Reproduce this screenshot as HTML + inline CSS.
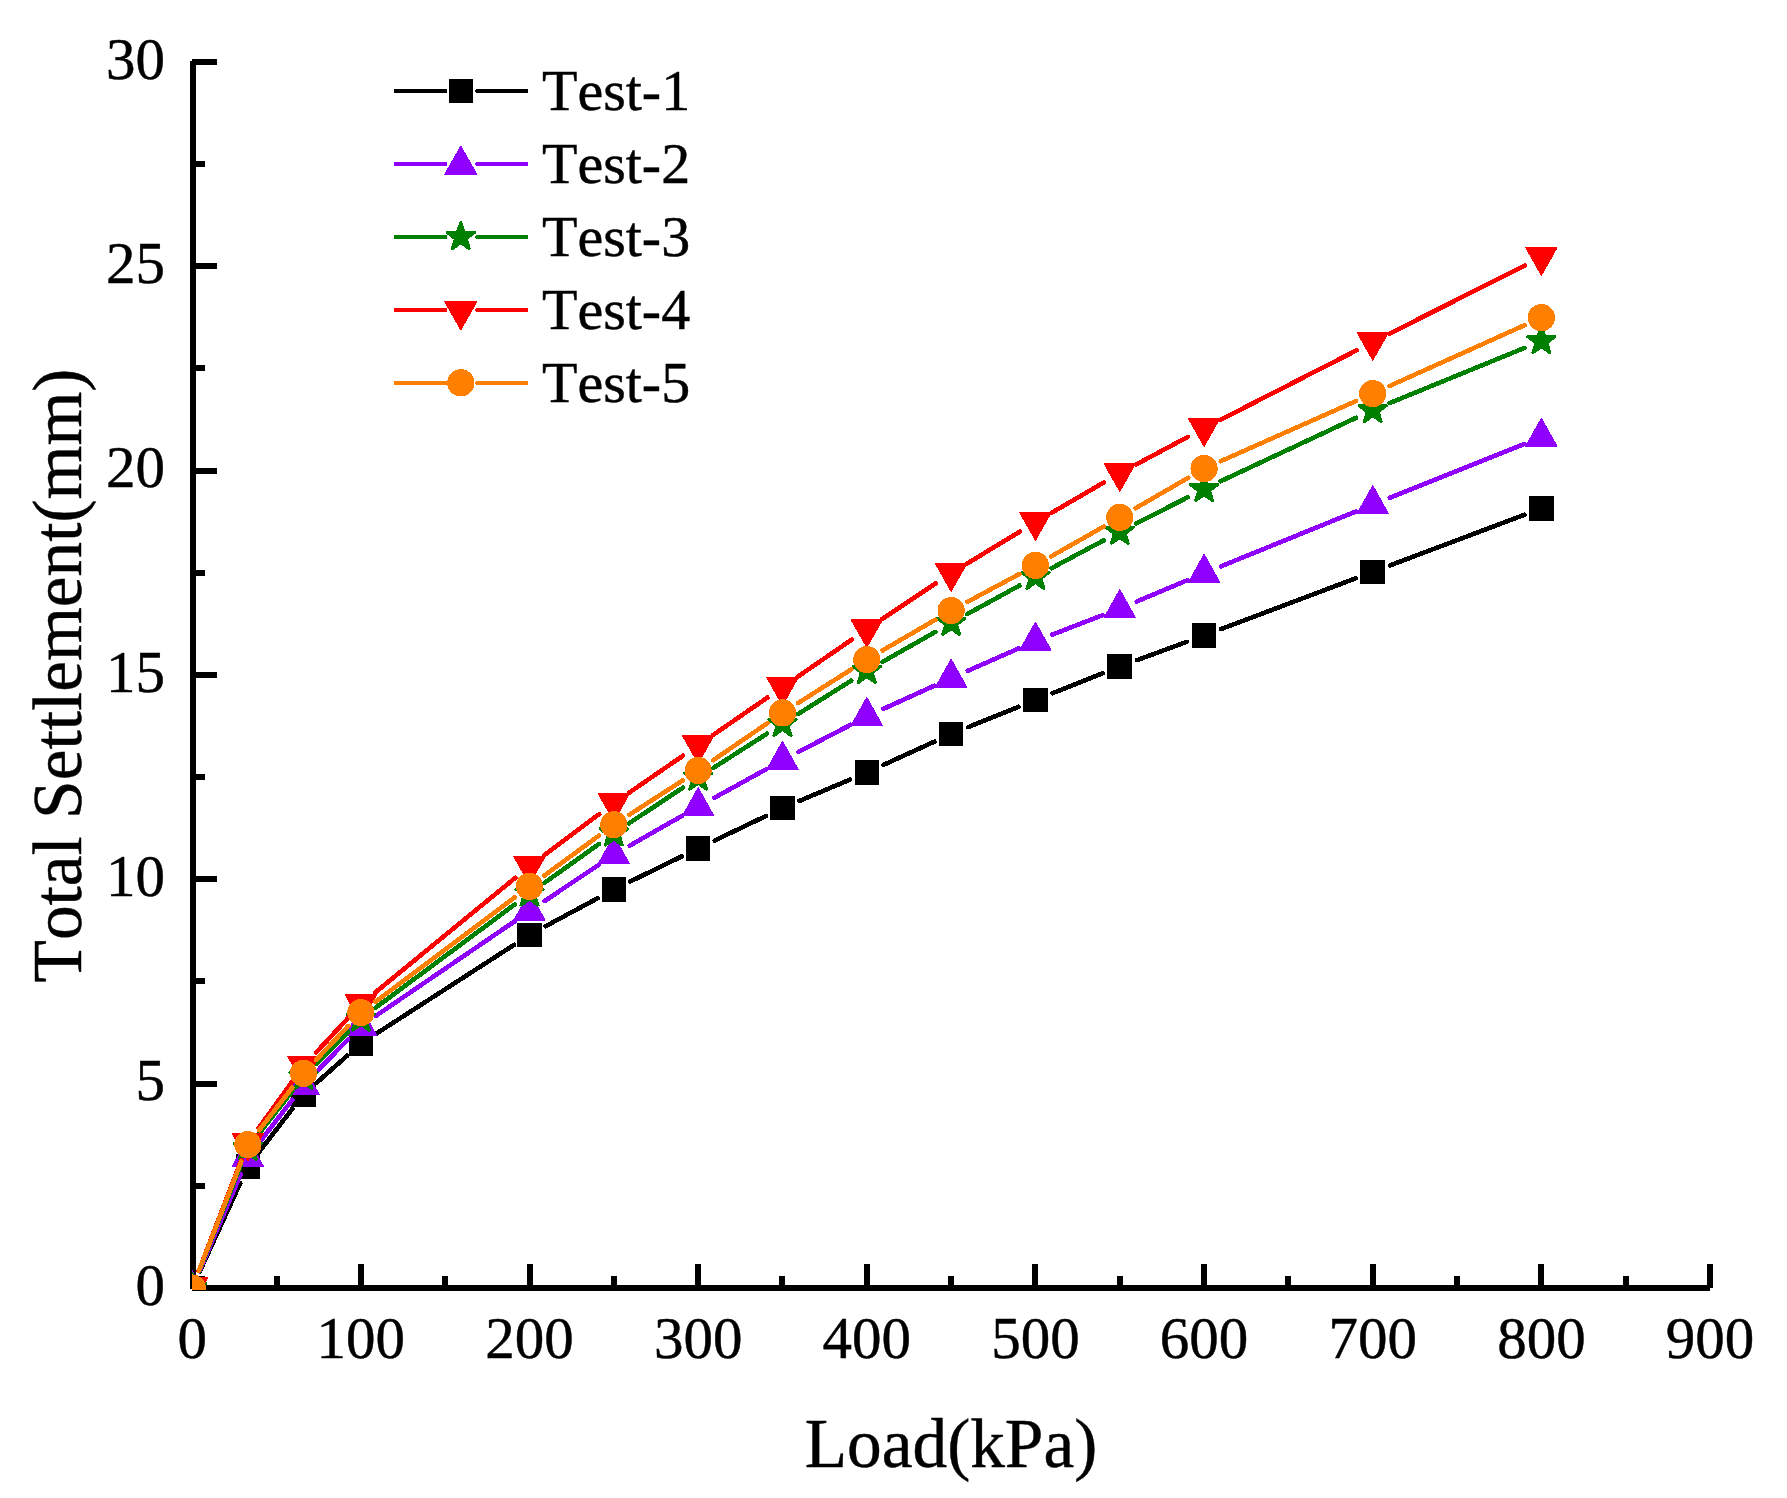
<!DOCTYPE html>
<html lang="en"><head><meta charset="utf-8"><title>Total Settlement vs Load</title>
<style>html,body{margin:0;padding:0;background:#fff;}body{width:1787px;height:1498px;overflow:hidden;}svg{display:block;}text{font-family:"Liberation Serif","Times New Roman",serif;fill:#000;stroke:#000;stroke-width:0.45px;font-kerning:none;}</style></head><body>
<svg width="1787" height="1498" viewBox="0 0 1787 1498">
<rect width="1787" height="1498" fill="#fff"/>
<defs><clipPath id="plot"><rect x="192" y="59" width="1521" height="1231"/></clipPath></defs>
<g fill="#000" shape-rendering="crispEdges">
<rect x="190" y="61" width="6" height="1228"/>
<rect x="192" y="1285" width="1518" height="6"/>
<rect x="192" y="1285" width="25" height="6"/>
<rect x="192" y="1183" width="13" height="6"/>
<rect x="192" y="1081" width="25" height="6"/>
<rect x="192" y="978" width="13" height="6"/>
<rect x="192" y="876" width="25" height="6"/>
<rect x="192" y="774" width="13" height="6"/>
<rect x="192" y="672" width="25" height="6"/>
<rect x="192" y="570" width="13" height="6"/>
<rect x="192" y="468" width="25" height="6"/>
<rect x="192" y="365" width="13" height="6"/>
<rect x="192" y="263" width="25" height="6"/>
<rect x="192" y="161" width="13" height="6"/>
<rect x="192" y="59" width="25" height="6"/>
<rect x="274" y="1276" width="6" height="12"/>
<rect x="358" y="1264" width="6" height="24"/>
<rect x="442" y="1276" width="6" height="12"/>
<rect x="527" y="1264" width="6" height="24"/>
<rect x="611" y="1276" width="6" height="12"/>
<rect x="695" y="1264" width="6" height="24"/>
<rect x="779" y="1276" width="6" height="12"/>
<rect x="864" y="1264" width="6" height="24"/>
<rect x="948" y="1276" width="6" height="12"/>
<rect x="1032" y="1264" width="6" height="24"/>
<rect x="1117" y="1276" width="6" height="12"/>
<rect x="1201" y="1264" width="6" height="24"/>
<rect x="1285" y="1276" width="6" height="12"/>
<rect x="1370" y="1264" width="6" height="24"/>
<rect x="1454" y="1276" width="6" height="12"/>
<rect x="1538" y="1264" width="6" height="24"/>
<rect x="1623" y="1276" width="6" height="12"/>
<rect x="1707" y="1264" width="6" height="24"/>
</g>
<g font-size="59">
<text x="165" y="1304.6" text-anchor="end">0</text>
<text x="165" y="1100.26" text-anchor="end">5</text>
<text x="165" y="895.93" text-anchor="end">10</text>
<text x="165" y="691.6" text-anchor="end">15</text>
<text x="165" y="487.26" text-anchor="end">20</text>
<text x="165" y="282.93" text-anchor="end">25</text>
<text x="165" y="78.59" text-anchor="end">30</text>
<text x="192.2" y="1357.8" text-anchor="middle">0</text>
<text x="360.85" y="1357.8" text-anchor="middle">100</text>
<text x="529.5" y="1357.8" text-anchor="middle">200</text>
<text x="698.15" y="1357.8" text-anchor="middle">300</text>
<text x="866.8" y="1357.8" text-anchor="middle">400</text>
<text x="1035.45" y="1357.8" text-anchor="middle">500</text>
<text x="1204.1" y="1357.8" text-anchor="middle">600</text>
<text x="1372.75" y="1357.8" text-anchor="middle">700</text>
<text x="1541.4" y="1357.8" text-anchor="middle">800</text>
<text x="1710.05" y="1357.8" text-anchor="middle">900</text>
</g>
<text x="951" y="1466.8" font-size="69.3" text-anchor="middle">Load(kPa)</text>
<text transform="translate(80.8 675.5) rotate(-90)" font-size="69.3" text-anchor="middle">Total Settlement(mm)</text>
<g clip-path="url(#plot)" shape-rendering="crispEdges">
<path d="M199.82 1271.36L240.23 1183.14M259.04 1152.01L292.33 1108.89M317.21 1082.26L347.15 1055.74M376.23 1033.69L514.12 944.81M545.61 926.22L597.71 898.18M630.28 881.48L681.7 856.42M714.66 840.51L765.96 815.99M799.33 800.98L849.94 779.62M883.45 764.9L934.48 741.6M968.1 727.16L1018.48 706.84M1052.46 693.24L1102.77 673.26M1136.95 660.19L1186.92 641.81M1221.22 629.04L1355.63 578.36M1389.88 565.45L1524.27 514.85" stroke="#000000" stroke-width="4.6" stroke-linecap="round" fill="none"/>
<rect x="179.9" y="1275.8" width="24.6" height="24.4" fill="#000000"/>
<rect x="235.55" y="1154.3" width="24.6" height="24.4" fill="#000000"/>
<rect x="291.21" y="1082.2" width="24.6" height="24.4" fill="#000000"/>
<rect x="348.55" y="1031.4" width="24.6" height="24.4" fill="#000000"/>
<rect x="517.2" y="922.7" width="24.6" height="24.4" fill="#000000"/>
<rect x="601.53" y="877.3" width="24.6" height="24.4" fill="#000000"/>
<rect x="685.85" y="836.2" width="24.6" height="24.4" fill="#000000"/>
<rect x="770.18" y="795.9" width="24.6" height="24.4" fill="#000000"/>
<rect x="854.5" y="760.3" width="24.6" height="24.4" fill="#000000"/>
<rect x="938.83" y="721.8" width="24.6" height="24.4" fill="#000000"/>
<rect x="1023.15" y="687.8" width="24.6" height="24.4" fill="#000000"/>
<rect x="1107.48" y="654.3" width="24.6" height="24.4" fill="#000000"/>
<rect x="1191.8" y="623.3" width="24.6" height="24.4" fill="#000000"/>
<rect x="1360.45" y="559.7" width="24.6" height="24.4" fill="#000000"/>
<rect x="1529.1" y="496.2" width="24.6" height="24.4" fill="#000000"/>
<path d="M199.37 1271.16L240.68 1174.24M259.04 1142.91L292.33 1099.79M316.24 1072.16L348.12 1039.24M375.97 1015.8L514.38 921.5M544.7 901.01L598.62 864.89M629.73 845.65L682.25 815.75M714.18 797.88L766.44 769.12M798.71 751.85L850.57 724.85M883.46 708.83L934.46 685.67M967.88 670.75L1018.69 648.45M1052.53 634.52L1102.7 615.18M1136.65 601.52L1187.23 580.28M1221.05 566.3L1355.8 511.5M1389.74 497.81L1524.41 443.99" stroke="#9000ff" stroke-width="4.6" stroke-linecap="round" fill="none"/>
<polygon points="192.2,1270.8 207.6,1298.4 176.8,1298.4" fill="#9000ff" stroke="#9000ff" stroke-width="1.4" stroke-linejoin="round"/>
<polygon points="247.85,1138.8 263.25,1166.4 232.45,1166.4" fill="#9000ff" stroke="#9000ff" stroke-width="1.4" stroke-linejoin="round"/>
<polygon points="303.51,1066.7 318.91,1094.3 288.11,1094.3" fill="#9000ff" stroke="#9000ff" stroke-width="1.4" stroke-linejoin="round"/>
<polygon points="360.85,1007.5 376.25,1035.1 345.45,1035.1" fill="#9000ff" stroke="#9000ff" stroke-width="1.4" stroke-linejoin="round"/>
<polygon points="529.5,892.6 544.9,920.2 514.1,920.2" fill="#9000ff" stroke="#9000ff" stroke-width="1.4" stroke-linejoin="round"/>
<polygon points="613.83,836.1 629.23,863.7 598.43,863.7" fill="#9000ff" stroke="#9000ff" stroke-width="1.4" stroke-linejoin="round"/>
<polygon points="698.15,788.1 713.55,815.7 682.75,815.7" fill="#9000ff" stroke="#9000ff" stroke-width="1.4" stroke-linejoin="round"/>
<polygon points="782.48,741.7 797.88,769.3 767.08,769.3" fill="#9000ff" stroke="#9000ff" stroke-width="1.4" stroke-linejoin="round"/>
<polygon points="866.8,697.8 882.2,725.4 851.4,725.4" fill="#9000ff" stroke="#9000ff" stroke-width="1.4" stroke-linejoin="round"/>
<polygon points="951.12,659.5 966.52,687.1 935.73,687.1" fill="#9000ff" stroke="#9000ff" stroke-width="1.4" stroke-linejoin="round"/>
<polygon points="1035.45,622.5 1050.85,650.1 1020.05,650.1" fill="#9000ff" stroke="#9000ff" stroke-width="1.4" stroke-linejoin="round"/>
<polygon points="1119.78,590 1135.18,617.6 1104.38,617.6" fill="#9000ff" stroke="#9000ff" stroke-width="1.4" stroke-linejoin="round"/>
<polygon points="1204.1,554.6 1219.5,582.2 1188.7,582.2" fill="#9000ff" stroke="#9000ff" stroke-width="1.4" stroke-linejoin="round"/>
<polygon points="1372.75,486 1388.15,513.6 1357.35,513.6" fill="#9000ff" stroke="#9000ff" stroke-width="1.4" stroke-linejoin="round"/>
<polygon points="1541.4,418.6 1556.8,446.2 1526,446.2" fill="#9000ff" stroke="#9000ff" stroke-width="1.4" stroke-linejoin="round"/>
<path d="M198.95 1270.99L241.11 1164.71M259.17 1133.32L292.19 1091.38M316.34 1063.95L348.02 1031.75M375.54 1007.79L514.81 904.41M544.4 882.88L598.92 844.02M629.09 823.3L682.89 787.7M713.58 767.76L767.05 733.64M797.98 714.08L851.3 680.62M882.7 661.85L935.22 631.95M967.18 614.12L1019.39 585.58M1051.59 568.18L1103.63 540.42M1136.09 523.52L1187.78 497.28M1220.67 481.24L1356.18 417.76M1389.69 403.07L1524.46 347.93" stroke="#008000" stroke-width="4.6" stroke-linecap="round" fill="none"/>
<polygon points="192.2,1272.7 195.8,1283.05 206.75,1283.27 198.02,1289.89 201.19,1300.38 192.2,1294.12 183.21,1300.38 186.38,1289.89 177.65,1283.27 188.6,1283.05" fill="#008000" stroke="#008000" stroke-width="2.4" stroke-linejoin="bevel"/>
<polygon points="247.85,1132.4 251.45,1142.75 262.41,1142.97 253.67,1149.59 256.85,1160.08 247.85,1153.82 238.86,1160.08 242.03,1149.59 233.3,1142.97 244.26,1142.75" fill="#008000" stroke="#008000" stroke-width="2.4" stroke-linejoin="bevel"/>
<polygon points="303.51,1061.7 307.11,1072.05 318.06,1072.27 309.33,1078.89 312.5,1089.38 303.51,1083.12 294.52,1089.38 297.69,1078.89 288.96,1072.27 299.91,1072.05" fill="#008000" stroke="#008000" stroke-width="2.4" stroke-linejoin="bevel"/>
<polygon points="360.85,1003.4 364.45,1013.75 375.4,1013.97 366.67,1020.59 369.84,1031.08 360.85,1024.82 351.86,1031.08 355.03,1020.59 346.3,1013.97 357.25,1013.75" fill="#008000" stroke="#008000" stroke-width="2.4" stroke-linejoin="bevel"/>
<polygon points="529.5,878.2 533.1,888.55 544.05,888.77 535.32,895.39 538.49,905.88 529.5,899.62 520.51,905.88 523.68,895.39 514.95,888.77 525.9,888.55" fill="#008000" stroke="#008000" stroke-width="2.4" stroke-linejoin="bevel"/>
<polygon points="613.83,818.1 617.42,828.45 628.38,828.67 619.65,835.29 622.82,845.78 613.83,839.52 604.83,845.78 608,835.29 599.27,828.67 610.23,828.45" fill="#008000" stroke="#008000" stroke-width="2.4" stroke-linejoin="bevel"/>
<polygon points="698.15,762.3 701.75,772.65 712.7,772.87 703.97,779.49 707.14,789.98 698.15,783.72 689.16,789.98 692.33,779.49 683.6,772.87 694.55,772.65" fill="#008000" stroke="#008000" stroke-width="2.4" stroke-linejoin="bevel"/>
<polygon points="782.48,708.5 786.07,718.85 797.03,719.07 788.3,725.69 791.47,736.18 782.48,729.92 773.48,736.18 776.65,725.69 767.92,719.07 778.88,718.85" fill="#008000" stroke="#008000" stroke-width="2.4" stroke-linejoin="bevel"/>
<polygon points="866.8,655.6 870.4,665.95 881.35,666.17 872.62,672.79 875.79,683.28 866.8,677.02 857.81,683.28 860.98,672.79 852.25,666.17 863.2,665.95" fill="#008000" stroke="#008000" stroke-width="2.4" stroke-linejoin="bevel"/>
<polygon points="951.12,607.6 954.72,617.95 965.68,618.17 956.95,624.79 960.12,635.28 951.12,629.02 942.13,635.28 945.3,624.79 936.57,618.17 947.53,617.95" fill="#008000" stroke="#008000" stroke-width="2.4" stroke-linejoin="bevel"/>
<polygon points="1035.45,561.5 1039.05,571.85 1050,572.07 1041.27,578.69 1044.44,589.18 1035.45,582.92 1026.46,589.18 1029.63,578.69 1020.9,572.07 1031.85,571.85" fill="#008000" stroke="#008000" stroke-width="2.4" stroke-linejoin="bevel"/>
<polygon points="1119.78,516.5 1123.37,526.85 1134.33,527.07 1125.6,533.69 1128.77,544.18 1119.78,537.92 1110.78,544.18 1113.95,533.69 1105.22,527.07 1116.18,526.85" fill="#008000" stroke="#008000" stroke-width="2.4" stroke-linejoin="bevel"/>
<polygon points="1204.1,473.7 1207.7,484.05 1218.65,484.27 1209.92,490.89 1213.09,501.38 1204.1,495.12 1195.11,501.38 1198.28,490.89 1189.55,484.27 1200.5,484.05" fill="#008000" stroke="#008000" stroke-width="2.4" stroke-linejoin="bevel"/>
<polygon points="1372.75,394.7 1376.35,405.05 1387.3,405.27 1378.57,411.89 1381.74,422.38 1372.75,416.12 1363.76,422.38 1366.93,411.89 1358.2,405.27 1369.15,405.05" fill="#008000" stroke="#008000" stroke-width="2.4" stroke-linejoin="bevel"/>
<polygon points="1541.4,325.7 1545,336.05 1555.95,336.27 1547.22,342.89 1550.39,353.38 1541.4,347.12 1532.41,353.38 1535.58,342.89 1526.85,336.27 1537.8,336.05" fill="#008000" stroke="#008000" stroke-width="2.4" stroke-linejoin="bevel"/>
<path d="M198.76 1270.92L241.3 1160.08M258.58 1128.18L292.78 1080.92M315.96 1052.69L348.4 1017.71M375.01 992.71L515.34 877.79M544.16 855.25L599.16 814.15M628.91 792.84L683.06 755.66M713.22 734.92L767.41 697.58M797.56 676.84L851.71 639.66M882.04 619.16L935.89 583.34M966.78 563.73L1019.79 531.67M1051.27 513.01L1103.95 482.39M1135.92 464.58L1187.96 436.82M1220.4 419.88L1356.45 350.42M1389.1 333.87L1525.05 265.43" stroke="#ff0000" stroke-width="4.6" stroke-linecap="round" fill="none"/>
<polygon points="176.8,1277.6 207.6,1277.6 192.2,1304.8" fill="#ff0000" stroke="#ff0000" stroke-width="1.4" stroke-linejoin="round"/>
<polygon points="232.45,1133.6 263.25,1133.6 247.85,1160.8" fill="#ff0000" stroke="#ff0000" stroke-width="1.4" stroke-linejoin="round"/>
<polygon points="288.11,1056.7 318.91,1056.7 303.51,1083.9" fill="#ff0000" stroke="#ff0000" stroke-width="1.4" stroke-linejoin="round"/>
<polygon points="345.45,994.9 376.25,994.9 360.85,1022.1" fill="#ff0000" stroke="#ff0000" stroke-width="1.4" stroke-linejoin="round"/>
<polygon points="514.1,856.8 544.9,856.8 529.5,884" fill="#ff0000" stroke="#ff0000" stroke-width="1.4" stroke-linejoin="round"/>
<polygon points="598.43,793.8 629.23,793.8 613.83,821" fill="#ff0000" stroke="#ff0000" stroke-width="1.4" stroke-linejoin="round"/>
<polygon points="682.75,735.9 713.55,735.9 698.15,763.1" fill="#ff0000" stroke="#ff0000" stroke-width="1.4" stroke-linejoin="round"/>
<polygon points="767.08,677.8 797.88,677.8 782.48,705" fill="#ff0000" stroke="#ff0000" stroke-width="1.4" stroke-linejoin="round"/>
<polygon points="851.4,619.9 882.2,619.9 866.8,647.1" fill="#ff0000" stroke="#ff0000" stroke-width="1.4" stroke-linejoin="round"/>
<polygon points="935.73,563.8 966.52,563.8 951.12,591" fill="#ff0000" stroke="#ff0000" stroke-width="1.4" stroke-linejoin="round"/>
<polygon points="1020.05,512.8 1050.85,512.8 1035.45,540" fill="#ff0000" stroke="#ff0000" stroke-width="1.4" stroke-linejoin="round"/>
<polygon points="1104.38,463.8 1135.18,463.8 1119.78,491" fill="#ff0000" stroke="#ff0000" stroke-width="1.4" stroke-linejoin="round"/>
<polygon points="1188.7,418.8 1219.5,418.8 1204.1,446" fill="#ff0000" stroke="#ff0000" stroke-width="1.4" stroke-linejoin="round"/>
<polygon points="1357.35,332.7 1388.15,332.7 1372.75,359.9" fill="#ff0000" stroke="#ff0000" stroke-width="1.4" stroke-linejoin="round"/>
<polygon points="1526,247.8 1556.8,247.8 1541.4,275" fill="#ff0000" stroke="#ff0000" stroke-width="1.4" stroke-linejoin="round"/>
<path d="M198.82 1270.94L241.23 1161.66M259.11 1130.17L292.25 1087.73M316.08 1060L348.28 1025.9M375.5 1001.64L514.85 897.36M544.27 875.59L599.06 835.51M629.22 814.81L682.76 780.39M713.26 760.18L767.36 723.22M797.94 703.12L851.33 669.38M882.62 650.41L935.3 619.79M967.25 601.95L1019.32 574.05M1051.35 556.35L1103.87 526.45M1135.61 508.23L1188.26 477.77M1220.82 461.16L1356.03 401.04M1389.43 386.08L1524.72 325.12" stroke="#ff8000" stroke-width="4.6" stroke-linecap="round" fill="none"/>
<circle cx="192.2" cy="1288" r="13.6" fill="#ff8000"/>
<circle cx="247.85" cy="1144.6" r="13.6" fill="#ff8000"/>
<circle cx="303.51" cy="1073.3" r="13.6" fill="#ff8000"/>
<circle cx="360.85" cy="1012.6" r="13.6" fill="#ff8000"/>
<circle cx="529.5" cy="886.4" r="13.6" fill="#ff8000"/>
<circle cx="613.83" cy="824.7" r="13.6" fill="#ff8000"/>
<circle cx="698.15" cy="770.5" r="13.6" fill="#ff8000"/>
<circle cx="782.48" cy="712.9" r="13.6" fill="#ff8000"/>
<circle cx="866.8" cy="659.6" r="13.6" fill="#ff8000"/>
<circle cx="951.12" cy="610.6" r="13.6" fill="#ff8000"/>
<circle cx="1035.45" cy="565.4" r="13.6" fill="#ff8000"/>
<circle cx="1119.78" cy="517.4" r="13.6" fill="#ff8000"/>
<circle cx="1204.1" cy="468.6" r="13.6" fill="#ff8000"/>
<circle cx="1372.75" cy="393.6" r="13.6" fill="#ff8000"/>
<circle cx="1541.4" cy="317.6" r="13.6" fill="#ff8000"/>
</g>
<g shape-rendering="crispEdges">
<path d="M395.8 91 L445 91 M477.4 91 L526 91" stroke="#000000" stroke-width="4.6" stroke-linecap="round" fill="none"/>
<rect x="448.5" y="78.8" width="24.6" height="24.4" fill="#000000"/>
<text x="542" y="110.2" font-size="58">Test-1</text>
<path d="M395.8 164 L445 164 M477.4 164 L526 164" stroke="#9000ff" stroke-width="4.6" stroke-linecap="round" fill="none"/>
<polygon points="460.8,146.4 476.7,174.4 444.9,174.4" fill="#9000ff" stroke="#9000ff" stroke-width="1.4" stroke-linejoin="round"/>
<text x="542" y="183.2" font-size="58">Test-2</text>
<path d="M395.8 237 L445 237 M477.4 237 L526 237" stroke="#008000" stroke-width="4.6" stroke-linecap="round" fill="none"/>
<polygon points="460.8,221.7 464.4,232.05 475.35,232.27 466.62,238.89 469.79,249.38 460.8,243.12 451.81,249.38 454.98,238.89 446.25,232.27 457.2,232.05" fill="#008000" stroke="#008000" stroke-width="2.4" stroke-linejoin="bevel"/>
<text x="542" y="256.2" font-size="58">Test-3</text>
<path d="M395.8 310 L445 310 M477.4 310 L526 310" stroke="#ff0000" stroke-width="4.6" stroke-linecap="round" fill="none"/>
<polygon points="444.9,301.6 476.7,301.6 460.8,329.5" fill="#ff0000" stroke="#ff0000" stroke-width="1.4" stroke-linejoin="round"/>
<text x="542" y="329.2" font-size="58">Test-4</text>
<path d="M395.8 382.8 L445 382.8 M477.4 382.8 L526 382.8" stroke="#ff8000" stroke-width="4.6" stroke-linecap="round" fill="none"/>
<circle cx="460.8" cy="382.8" r="13.6" fill="#ff8000"/>
<text x="542" y="402" font-size="58">Test-5</text>
</g>
</svg></body></html>
